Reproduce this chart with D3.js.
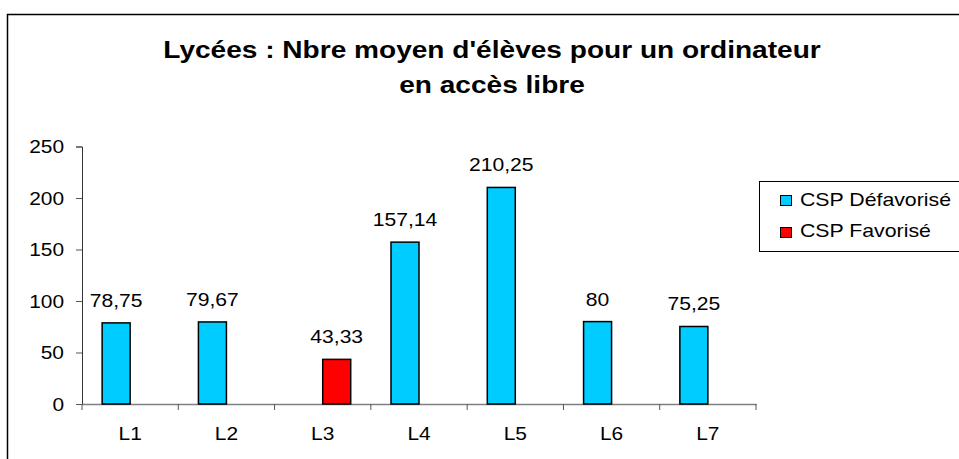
<!DOCTYPE html>
<html><head><meta charset="utf-8">
<script src="https://cdn.jsdelivr.net/npm/d3@7"></script>
<style>
body{margin:0;background:#fff;}
text{font-family:"Liberation Sans",Arial,sans-serif;fill:#000;}
</style></head>
<body>
<svg id="c" width="959" height="459"></svg>
<script>
const categories = ["L1","L2","L3","L4","L5","L6","L7"];
const seriesNames = ["CSP Défavorisé","CSP Favorisé"];
const defavorise = [78.75, 79.67, null, 157.14, 210.25, 80, 75.25];
const favorise = [null, null, 43.33, null, null, null, null];
const seriesColors = ["#00CCFF","#FF0000"];
const yTicks = [0,50,100,150,200,250];
const titleLines = ["Lycées : Nbre moyen d'élèves pour un ordinateur","en accès libre"];

const svg = d3.select("#c");
function stretch(sel, k){
  sel.each(function(){
    const w = this.getComputedTextLength();
    d3.select(this).attr("textLength", w*k).attr("lengthAdjust","spacingAndGlyphs");
  });
}
// outer frame
svg.append("rect").attr("x",7.5).attr("y",14.5).attr("width",1000).attr("height",1000)
  .attr("fill","none").attr("stroke","#000").attr("stroke-width",1.5);

// title
const tt = svg.selectAll("text.title").data(titleLines).enter().append("text")
  .attr("class","title").attr("x",492).attr("y",(d,i)=>58+i*35)
  .attr("text-anchor","middle").style("font-weight","bold").style("font-size","23px")
  .text(d=>d);
stretch(tt, 1.22);

const x0 = d3.scaleBand().domain(categories).range([82,756]).padding(0);
const groupW = 56;
const x1 = d3.scaleBand().domain(seriesNames).range([0,groupW]).padding(0);
const y = d3.scaleLinear().domain([0,250]).range([404,146.5]);

// y axis
const yAxis = svg.append("g").attr("transform","translate(82,0)")
  .call(d3.axisLeft(y).tickValues(yTicks).tickSize(6).tickPadding(12).tickFormat(d3.format("d")));
yAxis.select(".domain").attr("stroke","#333").attr("stroke-width",1);
yAxis.selectAll(".tick line").attr("stroke","#555");
yAxis.selectAll(".tick text").style("font-size","19px").attr("font-family",null);
stretch(yAxis.selectAll(".tick text"), 1.1);

// x axis (labels)
const xAxis = svg.append("g").attr("transform","translate(0,404)")
  .call(d3.axisBottom(x0).tickSize(0).tickPadding(23));
xAxis.select(".domain").attr("stroke","#808080").attr("stroke-width",1.5);
xAxis.selectAll(".tick text").style("font-size","19px").attr("font-family",null).attr("dy","0.71em");
stretch(xAxis.selectAll(".tick text"), 1.1);
// boundary ticks
const bounds = categories.map(c=>x0(c)).concat([x0.range()[1]]);
svg.append("g").selectAll("line").data(bounds).enter().append("line")
  .attr("x1",d=>d).attr("x2",d=>d).attr("y1",404).attr("y2",410)
  .attr("stroke","#555").attr("stroke-width",1);

// bars
const series = [defavorise, favorise];
const offset = (x0.bandwidth()-groupW)/2;
series.forEach((vals,si)=>{
  const data = categories.map((c,i)=>({c, v:vals[i]})).filter(d=>d.v!=null);
  const g = svg.append("g");
  g.selectAll("rect").data(data).enter().append("rect")
    .attr("x",d=>x0(d.c)+offset+x1(seriesNames[si]))
    .attr("y",d=>y(d.v))
    .attr("width",x1.bandwidth())
    .attr("height",d=>y(0)-y(d.v))
    .attr("fill",seriesColors[si]).attr("stroke","#000").attr("stroke-width",1.5);
  const lbl = g.selectAll("text").data(data).enter().append("text")
    .attr("x",d=>x0(d.c)+offset+x1(seriesNames[si])+x1.bandwidth()/2)
    .attr("y",d=>y(d.v)-16)
    .attr("text-anchor","middle").style("font-size","19px")
    .text(d=>String(d.v).replace(".",","));
  stretch(lbl, 1.11);
});

// legend
const lg = svg.append("g");
lg.append("rect").attr("x",759.5).attr("y",181.5).attr("width",300).attr("height",70)
  .attr("fill","#fff").attr("stroke","#000").attr("stroke-width",1);
seriesNames.forEach((s,i)=>{
  lg.append("rect").attr("x",780.5).attr("y",195.5+i*32).attr("width",11).attr("height",10)
    .attr("fill",seriesColors[i]).attr("stroke","#000").attr("stroke-width",1);
  const t = lg.append("text").attr("x",800).attr("y",206+i*31).style("font-size","19px").text(s);
  stretch(t, 1.12);
});
</script>
</body></html>
